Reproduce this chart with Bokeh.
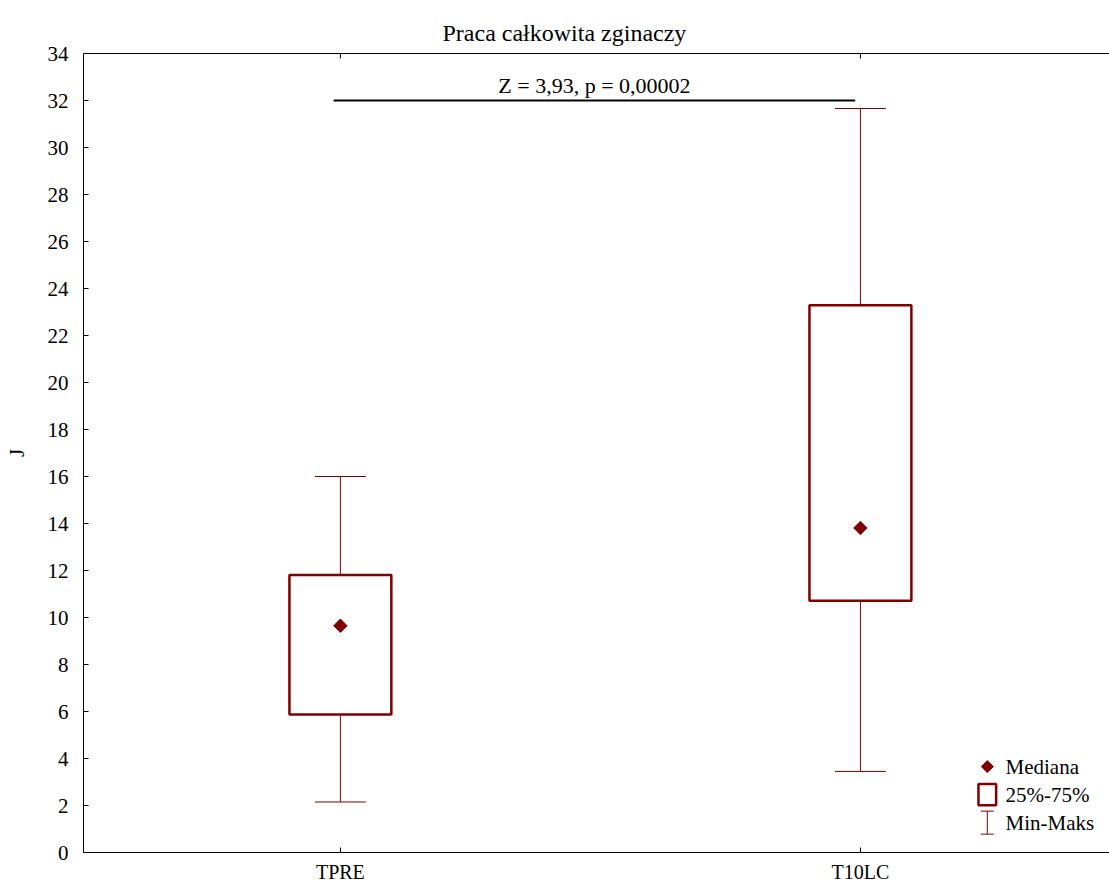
import math
from bokeh.plotting import figure
from bokeh.models import FixedTicker, Label, LinearAxis, Range1d
from bokeh.embed import file_html
from bokeh.resources import INLINE

# ---- data ----
categories = ["TPRE", "T10LC"]
q_min = [2.15, 3.45]
q1 = [5.87, 10.71]
median = [9.65, 13.81]
q3 = [11.81, 23.29]
q_max = [16.0, 31.66]
y_ticks = list(range(0, 35, 2))
title_text = "Praca całkowita zginaczy"
y_label = "J"
sig_text = "Z = 3,93, p = 0,00002"
sig_y = 32.0
sig_x = [-0.013, 0.99]
legend_labels = ["Mediana", "25%-75%", "Min-Maks"]

xs = list(range(len(categories)))
FONT = "Liberation Serif"
DARK = "#800000"
Y0, Y1 = 0, 34

W, H = 1109, 885
p = figure(width=W, height=H,
           x_range=Range1d(-0.494, 1.479), y_range=Range1d(Y0, Y1),
           output_backend="svg", toolbar_location=None,
           min_border_left=83, min_border_right=0,
           min_border_top=53, min_border_bottom=32)
p.grid.visible = False
p.outline_line_color = None
p.background_fill_color = "white"
p.border_fill_color = "white"

# title
p.title.text = title_text
p.title.align = "left"
p.title.offset = 359
p.title.vertical_align = "top"
p.title.text_font = FONT
p.title.text_font_size = "24px"
p.title.text_font_style = "normal"
p.title.text_color = "black"
p.title.standoff = 12

# left axis
ya = p.yaxis[0]
ya.ticker = FixedTicker(ticks=y_ticks)
ya.minor_tick_line_color = None
ya.major_tick_in = 5
ya.major_tick_out = 0
ya.axis_line_color = "black"
ya.major_tick_line_color = "black"
ya.major_label_text_font = FONT
ya.major_label_text_font_size = "21px"
ya.major_label_text_color = "black"
ya.major_label_standoff = 15
ya.axis_label = y_label
ya.axis_label_text_font = FONT
ya.axis_label_text_font_size = "21px"
ya.axis_label_text_font_style = "normal"
ya.axis_label_text_color = "black"
ya.axis_label_standoff = 16

# bottom axis with category labels
xa = p.xaxis[0]
xa.ticker = FixedTicker(ticks=xs)
xa.major_label_overrides = {x: c for x, c in zip(xs, categories)}
xa.minor_tick_line_color = None
xa.major_tick_in = 5
xa.major_tick_out = 0
xa.axis_line_color = "black"
xa.major_tick_line_color = "black"
xa.major_label_text_font = FONT
xa.major_label_text_font_size = "20px"
xa.major_label_text_color = "black"
xa.major_label_standoff = 8

# top frame line (axis without ticks or labels) plus inward ticks at categories
top = LinearAxis(ticker=FixedTicker(ticks=[]))
top.minor_tick_line_color = None
top.major_tick_line_color = None
top.axis_line_color = "black"
top.major_label_standoff = 0
p.add_layout(top, "above")
tick_len = 5 * (Y1 - Y0) / 800.0
p.segment(x0=xs, y0=[Y1] * len(xs), x1=xs, y1=[Y1 - tick_len] * len(xs),
          line_color="black", line_width=1)

# whiskers
p.segment(x0=xs, y0=q3, x1=xs, y1=q_max, line_color=DARK, line_width=1)
p.segment(x0=xs, y0=q_min, x1=xs, y1=q1, line_color=DARK, line_width=1)
cap = 0.049
p.segment(x0=[x - cap for x in xs], y0=q_max, x1=[x + cap for x in xs], y1=q_max,
          line_color=DARK, line_width=1)
p.segment(x0=[x - cap for x in xs], y0=q_min, x1=[x + cap for x in xs], y1=q_min,
          line_color=DARK, line_width=1)

# boxes
bw = 0.098
p.quad(left=[x - bw for x in xs], right=[x + bw for x in xs], bottom=q1, top=q3,
       fill_color="white", line_color=DARK, line_width=2.5)

# medians (diamond = square rotated 45 degrees)
p.scatter(x=xs, y=median, marker="square", angle=math.pi / 4, size=9.5,
          fill_color=DARK, line_color=DARK)

# significance bar
p.segment(x0=[sig_x[0]], y0=[sig_y], x1=[sig_x[1]], y1=[sig_y], line_color="black", line_width=2)
p.add_layout(Label(x=(sig_x[0] + sig_x[1]) / 2, y=sig_y, y_offset=3, text=sig_text,
                   text_align="center", text_baseline="bottom",
                   text_font=FONT, text_font_size="22px", text_color="black"))

# legend (drawn manually)
lx = 1.244
ly = [3.655, 2.46, 1.27]
p.scatter(x=[lx], y=[ly[0]], marker="square", angle=math.pi / 4, size=8.5,
          fill_color=DARK, line_color=DARK)
p.quad(left=[lx - 0.017], right=[lx + 0.017], bottom=[ly[1] - 0.45], top=[ly[1] + 0.45],
       fill_color="white", line_color=DARK, line_width=2.5)
p.segment(x0=[lx], y0=[ly[2] - 0.49], x1=[lx], y1=[ly[2] + 0.49], line_color=DARK, line_width=1)
p.segment(x0=[lx - 0.0125, lx - 0.0125], y0=[ly[2] - 0.49, ly[2] + 0.49],
          x1=[lx + 0.0125, lx + 0.0125], y1=[ly[2] - 0.49, ly[2] + 0.49],
          line_color=DARK, line_width=1)
for yy, t in zip(ly, legend_labels):
    p.add_layout(Label(x=lx + 0.035, y=yy, text=t, text_align="left", text_baseline="middle",
                       text_font=FONT, text_font_size="21px", text_color="black"))

open("out.html", "w").write(file_html(p, INLINE))
